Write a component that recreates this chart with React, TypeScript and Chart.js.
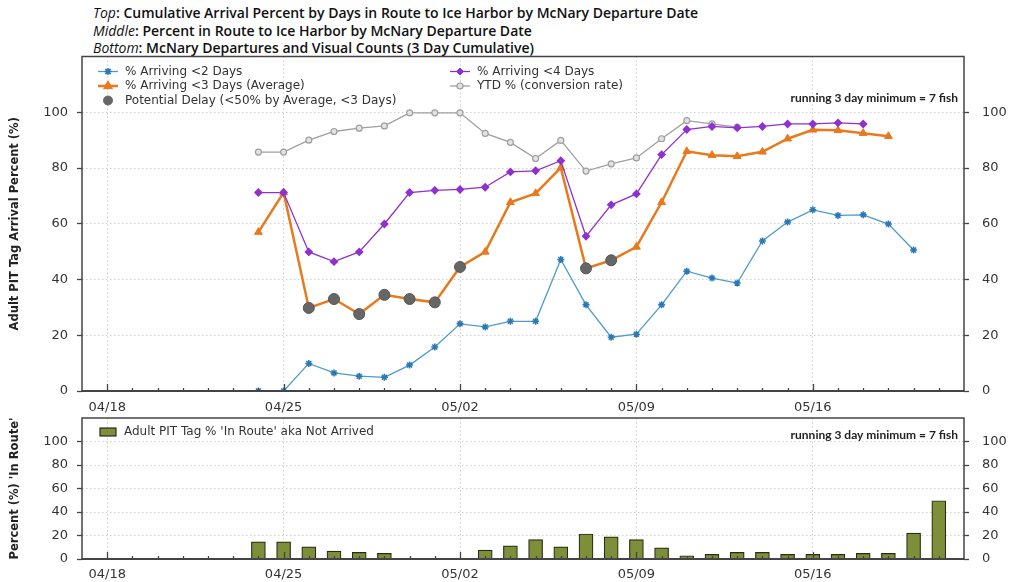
import React, { useEffect, useRef } from 'react';
import { Chart, registerables } from 'chart.js';
Chart.register(...registerables);

// ---- data ----
const axisDates = [
  '04/17','04/18','04/19','04/20','04/21','04/22','04/23','04/24','04/25','04/26','04/27','04/28','04/29','04/30',
  '05/01','05/02','05/03','05/04','05/05','05/06','05/07','05/08','05/09','05/10','05/11','05/12','05/13','05/14',
  '05/15','05/16','05/17','05/18','05/19','05/20','05/21','05/22'
];
const majorDates = ['04/18', '04/25', '05/02', '05/09', '05/16'];
const yTickValues = [0, 20, 40, 60, 80, 100];

const lineDates = [
  '04/24','04/25','04/26','04/27','04/28','04/29','04/30','05/01','05/02','05/03','05/04','05/05','05/06','05/07',
  '05/08','05/09','05/10','05/11','05/12','05/13','05/14','05/15','05/16','05/17','05/18','05/19','05/20'
];
const arriving2 = [0, 0, 9.9, 6.5, 5.3, 4.9, 9.3, 15.8, 24.1, 23.0, 25.0, 25.0, 47.2, 30.9,
  19.3, 20.4, 30.9, 43.0, 40.5, 38.7, 53.8, 60.6, 65.0, 63.0, 63.2, 59.9, 50.6];
const arriving3 = [57.0, 71.2, 29.8, 33.0, 27.6, 34.5, 33.0, 31.8, 44.5, 49.9, 67.7, 70.9, 80.1, 44.0,
  46.9, 51.7, 67.7, 86.0, 84.6, 84.2, 85.8, 90.5, 93.7, 93.5, 92.5, 91.4, null];
const arriving4 = [71.2, 71.2, 49.9, 46.4, 49.9, 59.9, 71.2, 72.0, 72.3, 73.1, 78.6, 79.0, 82.6, 55.5,
  66.8, 70.7, 84.8, 93.8, 94.9, 94.4, 94.9, 95.8, 95.8, 96.2, 95.8, null, null];
const ytdPercent = [85.7, 85.7, 90.0, 93.1, 94.3, 95.1, 99.8, 99.8, 99.8, 92.4, 89.2, 83.4, 89.9, 78.9,
  81.5, 83.6, 90.5, 97.0, 95.8, 94.7, null, null, null, null, null, null, null];
const potentialDelay = [null, null, 29.8, 33.0, 27.6, 34.5, 33.0, 31.8, 44.5, null, null, null, null, 44.0,
  46.9, null, null, null, null, null, null, null, null, null, null, null, null];

const barDates = [
  '04/24','04/25','04/26','04/27','04/28','04/29','04/30','05/01','05/02','05/03','05/04','05/05','05/06','05/07',
  '05/08','05/09','05/10','05/11','05/12','05/13','05/14','05/15','05/16','05/17','05/18','05/19','05/20','05/21'
];
const inRoute = [14.6, 14.6, 10.4, 6.7, 5.6, 4.8, null, null, null, 7.6, 11.2, 16.5, 10.4, 21.3,
  18.8, 16.5, 9.5, 2.8, 3.9, 5.6, 5.6, 3.9, 3.9, 3.9, 4.8, 4.8, 22.1, 49.6];

// ---- styles ----
const C_BLUE = '#4b9cc9';
const C_BLUE_PT = '#2a78b5';
const C_ORANGE = '#e8791c';
const C_PURPLE = '#9030d0';
const C_GRAY = '#9f9f9f';
const C_DELAY = '#666666';
const C_OLIVE = '#7d8f38';
const FRAME = '#444444';
const GRID = '#cfcfcf';
const TXT = '#333333';
const FONT = 'DejaVu Sans';

Chart.defaults.font.family = FONT;

function pts(dates: string[], vals: (number | null)[]) {
  return dates.map((d, i) => ({ x: d, y: vals[i] }));
}

function drawShape(ctx: CanvasRenderingContext2D, shape: string, x: number, y: number, r: number, fill: string, stroke: string, lw: number) {
  ctx.save();
  ctx.fillStyle = fill;
  ctx.strokeStyle = stroke;
  ctx.lineWidth = lw;
  ctx.beginPath();
  if (shape === 'circle') {
    ctx.arc(x, y, r, 0, Math.PI * 2);
    ctx.fill();
    ctx.stroke();
  } else if (shape === 'triangle') {
    ctx.moveTo(x, y - r * 1.15);
    ctx.lineTo(x + r, y + r * 0.6);
    ctx.lineTo(x - r, y + r * 0.6);
    ctx.closePath();
    ctx.fill();
    ctx.stroke();
  } else if (shape === 'diamond') {
    ctx.moveTo(x, y - r);
    ctx.lineTo(x + r, y);
    ctx.lineTo(x, y + r);
    ctx.lineTo(x - r, y);
    ctx.closePath();
    ctx.fill();
    ctx.stroke();
  } else if (shape === 'star') {
    ctx.moveTo(x - r, y); ctx.lineTo(x + r, y);
    ctx.moveTo(x, y - r); ctx.lineTo(x, y + r);
    const d = r * 0.75;
    ctx.moveTo(x - d, y - d); ctx.lineTo(x + d, y + d);
    ctx.moveTo(x - d, y + d); ctx.lineTo(x + d, y - d);
    ctx.stroke();
  }
  ctx.restore();
}

function frameAndTicks(chart: any) {
  const ctx: CanvasRenderingContext2D = chart.ctx;
  const a = chart.chartArea;
  const xs = chart.scales.x;
  ctx.save();
  ctx.strokeStyle = FRAME;
  ctx.lineWidth = 1.3;
  for (let i = 1; i < axisDates.length - 1; i++) {
    const px = Math.round(xs.getPixelForValue(i)) + 0.5;
    const len = majorDates.includes(axisDates[i]) ? 7 : 3;
    ctx.beginPath();
    ctx.moveTo(px, a.bottom);
    ctx.lineTo(px, a.bottom - len);
    ctx.stroke();
  }
  ctx.lineWidth = 1.5;
  ctx.strokeStyle = FRAME;
  ctx.strokeRect(a.left, a.top, a.right - a.left, a.bottom - a.top);
  ctx.lineWidth = 2;
  ctx.beginPath();
  ctx.moveTo(a.left, a.bottom);
  ctx.lineTo(a.right, a.bottom);
  ctx.stroke();
  ctx.restore();
}

function drawRunningNote(chart: any, dy: number) {
  const ctx: CanvasRenderingContext2D = chart.ctx;
  const a = chart.chartArea;
  ctx.save();
  ctx.font = 'bold 12px Lato';
  ctx.fillStyle = '#222';
  ctx.textAlign = 'right';
  ctx.textBaseline = 'middle';
  ctx.fillText('running 3 day minimum = 7 fish', a.right - 6, a.top + dy);
  ctx.restore();
}

const topPlugin = {
  id: 'topDecor',
  afterDraw(chart: any) {
    frameAndTicks(chart);
    drawRunningNote(chart, 42);
    const ctx: CanvasRenderingContext2D = chart.ctx;
    const a = chart.chartArea;
    const items = [
      { label: '% Arriving <2 Days', color: C_BLUE, pc: C_BLUE_PT, shape: 'star', col: 0, row: 0, line: true, lw: 1.3 },
      { label: '% Arriving <3 Days (Average)', color: C_ORANGE, pc: C_ORANGE, shape: 'triangle', col: 0, row: 1, line: true, lw: 2.5 },
      { label: 'Potential Delay (<50% by Average, <3 Days)', color: C_DELAY, pc: C_DELAY, shape: 'circle', col: 0, row: 2, line: false, lw: 1 },
      { label: '% Arriving <4 Days', color: C_PURPLE, pc: C_PURPLE, shape: 'diamond', col: 1, row: 0, line: true, lw: 1.3 },
      { label: 'YTD % (conversion rate)', color: C_GRAY, pc: C_GRAY, shape: 'circle', col: 1, row: 1, line: true, lw: 1.3 },
    ];
    ctx.save();
    ctx.font = `12px ${FONT}`;
    ctx.textBaseline = 'middle';
    ctx.textAlign = 'left';
    for (const it of items) {
      const cx = a.left + (it.col === 0 ? 26 : 378);
      const cy = a.top + 15 + it.row * 14.5;
      if (it.line) {
        ctx.strokeStyle = it.color;
        ctx.lineWidth = it.lw;
        ctx.beginPath();
        ctx.moveTo(cx - 10, cy);
        ctx.lineTo(cx + 10, cy);
        ctx.stroke();
      }
      if (it.shape === 'star') drawShape(ctx, 'star', cx, cy, 3.5, it.pc, it.pc, 1.5);
      else if (it.shape === 'triangle') drawShape(ctx, 'triangle', cx, cy, 4.5, it.pc, it.pc, 1);
      else if (it.shape === 'diamond') drawShape(ctx, 'diamond', cx, cy, 3.5, it.pc, it.pc, 1);
      else if (it.line) drawShape(ctx, 'circle', cx, cy, 3, '#e2e2e2', it.pc, 1.2);
      else drawShape(ctx, 'circle', cx, cy, 4.5, it.pc, it.pc, 1);
      ctx.fillStyle = TXT;
      ctx.fillText(it.label, cx + 17, cy);
    }
    ctx.restore();
  },
};

const bottomPlugin = {
  id: 'bottomDecor',
  afterDraw(chart: any) {
    frameAndTicks(chart);
    drawRunningNote(chart, 17);
    const ctx: CanvasRenderingContext2D = chart.ctx;
    const a = chart.chartArea;
    ctx.save();
    ctx.fillStyle = C_OLIVE;
    ctx.strokeStyle = '#2a2a1a';
    ctx.lineWidth = 1.2;
    ctx.fillRect(a.left + 18, a.top + 10, 16, 8);
    ctx.strokeRect(a.left + 18, a.top + 10, 16, 8);
    ctx.font = `12px ${FONT}`;
    ctx.fillStyle = TXT;
    ctx.textBaseline = 'middle';
    ctx.fillText("Adult PIT Tag % 'In Route' aka Not Arrived", a.left + 42, a.top + 14);
    ctx.restore();
  },
};

function xScale(height: number, pad: number) {
  return {
    type: 'category' as const,
    offset: false,
    grid: {
      offset: false,
      drawTicks: false,
      color: (c: any) => (majorDates.includes(axisDates[c.index]) ? GRID : 'rgba(0,0,0,0)'),
      lineWidth: 1,
    },
    border: { display: false, dash: [1.5, 2.5] },
    ticks: {
      autoSkip: false,
      maxRotation: 0,
      padding: pad,
      color: TXT,
      font: { size: 13, family: FONT },
      callback: (_v: any, i: number) => (majorDates.includes(axisDates[i]) ? axisDates[i] : ''),
    },
    afterFit: (s: any) => {
      s.height = height;
      s.paddingLeft = 0;
      s.paddingRight = 0;
      s.paddingTop = 0;
      s.paddingBottom = 0;
    },
  };
}

function yScale(pos: 'left' | 'right', width: number, title: string | null, pad: number) {
  return {
    position: pos,
    min: 0,
    max: 120,
    grid: {
      drawOnChartArea: pos === 'left',
      color: (c: any) => (c.tick && c.tick.value > 0 && c.tick.value <= 100 ? GRID : 'rgba(0,0,0,0)'),
      tickColor: (c: any) => (c.tick && yTickValues.includes(c.tick.value) ? FRAME : 'rgba(0,0,0,0)'),
      tickLength: 5,
      tickWidth: 1.3,
      drawTicks: true,
    },
    border: { display: false, dash: [1.5, 2.5] },
    ticks: {
      stepSize: 20,
      padding: pad,
      color: TXT,
      font: { size: 13, family: FONT },
      callback: (v: any) => (yTickValues.includes(v) ? String(v) : ''),
    },
    title: title
      ? { display: true, text: title, color: '#222', font: { size: 11.5, weight: 'bold', family: FONT }, padding: { top: 8, bottom: 0 } }
      : { display: false },
    afterFit: (s: any) => {
      s.width = width;
      s.paddingTop = 0;
      s.paddingBottom = 0;
      s.paddingLeft = 0;
      s.paddingRight = 0;
    },
  };
}

export default function App() {
  const topRef = useRef<HTMLCanvasElement>(null);
  const botRef = useRef<HTMLCanvasElement>(null);

  useEffect(() => {
    const top = new Chart(topRef.current!, {
      type: 'line',
      data: {
        labels: axisDates,
        datasets: [
          {
            label: 'Potential Delay (<50% by Average, <3 Days)',
            data: pts(lineDates, potentialDelay),
            showLine: false,
            pointStyle: 'circle',
            pointRadius: 5.5,
            pointBackgroundColor: C_DELAY,
            pointBorderColor: '#555',
            pointBorderWidth: 1,
          } as any,
          {
            label: '% Arriving <4 Days',
            data: pts(lineDates, arriving4),
            borderColor: C_PURPLE,
            borderWidth: 1.3,
            pointStyle: 'rectRot',
            pointRadius: 3.5,
            pointBackgroundColor: C_PURPLE,
            pointBorderColor: C_PURPLE,
          },
          {
            label: '% Arriving <3 Days (Average)',
            data: pts(lineDates, arriving3),
            borderColor: C_ORANGE,
            borderWidth: 2.5,
            pointStyle: 'triangle',
            pointRadius: 4.5,
            pointBackgroundColor: C_ORANGE,
            pointBorderColor: C_ORANGE,
            pointBorderWidth: 1,
          },
          {
            label: '% Arriving <2 Days',
            data: pts(lineDates, arriving2),
            borderColor: C_BLUE,
            borderWidth: 1.3,
            pointStyle: 'star',
            pointRadius: 3.5,
            pointBackgroundColor: C_BLUE_PT,
            pointBorderColor: C_BLUE_PT,
            pointBorderWidth: 1.5,
          },
          {
            label: 'YTD % (conversion rate)',
            data: pts(lineDates, ytdPercent),
            borderColor: C_GRAY,
            borderWidth: 1.3,
            pointStyle: 'circle',
            pointRadius: 3,
            pointBackgroundColor: '#e2e2e2',
            pointBorderColor: C_GRAY,
            pointBorderWidth: 1.2,
          },
        ],
      },
      options: {
        animation: false,
        responsive: false,
        maintainAspectRatio: false,
        layout: { padding: { top: 5, left: 0, right: 0, bottom: 0 } },
        plugins: { legend: { display: false }, tooltip: { enabled: false } },
        elements: { line: { tension: 0 } },
        scales: {
          x: xScale(29, 9) as any,
          y: yScale('left', 82, 'Adult PIT Tag Arrival Percent (%)', 9) as any,
          y2: yScale('right', 47, null, 13) as any,
        },
      },
      plugins: [topPlugin],
    });

    const bot = new Chart(botRef.current!, {
      type: 'bar',
      data: {
        labels: axisDates,
        datasets: [
          {
            label: "Adult PIT Tag % 'In Route' aka Not Arrived",
            data: pts(barDates, inRoute) as any,
            backgroundColor: C_OLIVE,
            borderColor: '#2a2a1a',
            borderWidth: 1.2,
            barThickness: 14,
          },
        ],
      },
      options: {
        animation: false,
        responsive: false,
        maintainAspectRatio: false,
        layout: { padding: { top: 8, left: 0, right: 0, bottom: 0 } },
        plugins: { legend: { display: false }, tooltip: { enabled: false } },
        scales: {
          x: xScale(23, 8) as any,
          y: yScale('left', 82, "Percent (%) 'In Route'", 9) as any,
          y2: yScale('right', 47, null, 13) as any,
        },
      },
      plugins: [bottomPlugin],
    });

    return () => {
      top.destroy();
      bot.destroy();
    };
  }, []);

  const titleLine: React.CSSProperties = { height: 17.5, lineHeight: '17.5px', whiteSpace: 'nowrap' };
  const lead: React.CSSProperties = { fontStyle: 'italic', fontWeight: 400 };

  return (
    <div style={{ position: 'fixed', left: 0, top: 0, width: 1011, height: 582, background: '#fff', overflow: 'hidden' }}>
      <div style={{ position: 'absolute', left: 93, top: 4, fontFamily: '"Open Sans", sans-serif', fontWeight: 600, fontSize: 14, color: '#111' }}>
        <div style={titleLine}><span style={lead}>Top</span>: Cumulative Arrival Percent by Days in Route to Ice Harbor by McNary Departure Date</div>
        <div style={titleLine}><span style={lead}>Middle</span>: Percent in Route to Ice Harbor by McNary Departure Date</div>
        <div style={titleLine}><span style={lead}>Bottom</span>: McNary Departures and Visual Counts (3 Day Cumulative)</div>
      </div>
      <canvas ref={topRef} width={1011} height={370} style={{ position: 'absolute', left: 0, top: 50, width: 1011, height: 370 }} />
      <canvas ref={botRef} width={1011} height={172} style={{ position: 'absolute', left: 0, top: 410, width: 1011, height: 172 }} />
    </div>
  );
}
